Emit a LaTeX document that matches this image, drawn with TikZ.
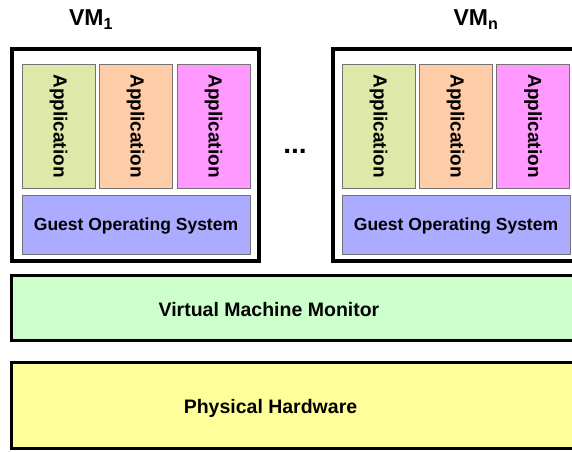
\documentclass[tikz,border=0pt]{standalone}
\usepackage{fontspec}
\setmainfont{Liberation Sans}
\usetikzlibrary{positioning}
\definecolor{appgreen}{rgb}{0.87,0.91,0.66}
\definecolor{apppeach}{rgb}{1,0.8,0.66}
\definecolor{apppink}{rgb}{1,0.6,1}
\definecolor{guestblue}{rgb}{0.67,0.67,1}
\definecolor{vmmgreen}{rgb}{0.8,1,0.8}
\definecolor{hwyellow}{rgb}{1,1,0.6}

\begin{document}
\begin{tikzpicture}[x=1pt,y=-1pt,font=\bfseries]
  \tikzstyle{vm}=[rectangle,draw=black,line width=3.5pt,minimum width=247pt,minimum height=212pt,inner sep=0pt]
  \tikzstyle{app}=[rectangle,draw=black!55,line width=0.8pt,minimum width=124pt,minimum height=73pt,inner sep=0pt,rotate=-90,font=\fontsize{19}{19}\selectfont\bfseries]
  \tikzstyle{guest}=[rectangle,draw=black!55,line width=0.8pt,fill=guestblue,minimum width=228pt,minimum height=59pt,inner sep=0pt,text depth=0pt,font=\fontsize{17.5}{17.5}\selectfont\bfseries]
  \tikzstyle{layer}=[rectangle,draw=black,line width=3pt,minimum width=579pt,inner sep=0pt]
  \tikzstyle{title}=[font=\fontsize{19.5}{19.5}\selectfont\bfseries]
  \useasboundingbox (0,0) rectangle (572,451);
  % first virtual machine
  \node[vm]            (vmA) at (135.5, 155)     {};
  \node[app,fill=appgreen]  (appA1) at (58.5, 126)  {Application};
  \node[app,fill=apppeach]  (appA2) at (135.5, 126) {Application};
  \node[app,fill=apppink]   (appA3) at (213.5, 126) {Application};
  \node[guest]         (guestA) at (136, 224.5)  {Guest Operating System};
  \node[font=\fontsize{23}{23}\selectfont\bfseries] (labA) at (91, 19.5) {VM\textsubscript{1}};
  % last virtual machine
  \node[vm]            (vmN) at (456.5, 155)     {};
  \node[app,fill=appgreen]  (appN1) at (378.5, 126) {Application};
  \node[app,fill=apppeach]  (appN2) at (455.5, 126) {Application};
  \node[app,fill=apppink]   (appN3) at (533, 126)   {Application};
  \node[guest]         (guestN) at (456, 224.5)  {Guest Operating System};
  \node[font=\fontsize{23}{23}\selectfont\bfseries] (labN) at (476, 19.5) {VM\textsubscript{n}};
  \node[font=\fontsize{28}{28}\selectfont\bfseries,anchor=base] (dots) at (295, 153) {...};
  % monitor and hardware
  \node[layer,fill=vmmgreen,minimum height=64.5pt] (vmm) at (300.5, 308.2) {};
  \node[title]         (vmmtext) at (269, 310) {Virtual Machine Monitor};
  \node[layer,fill=hwyellow,minimum height=86pt]   (hw) at (300.5, 405.5) {};
  \node[title]         (hwtext) at (270.5, 408) {Physical Hardware};
\end{tikzpicture}
\end{document}
